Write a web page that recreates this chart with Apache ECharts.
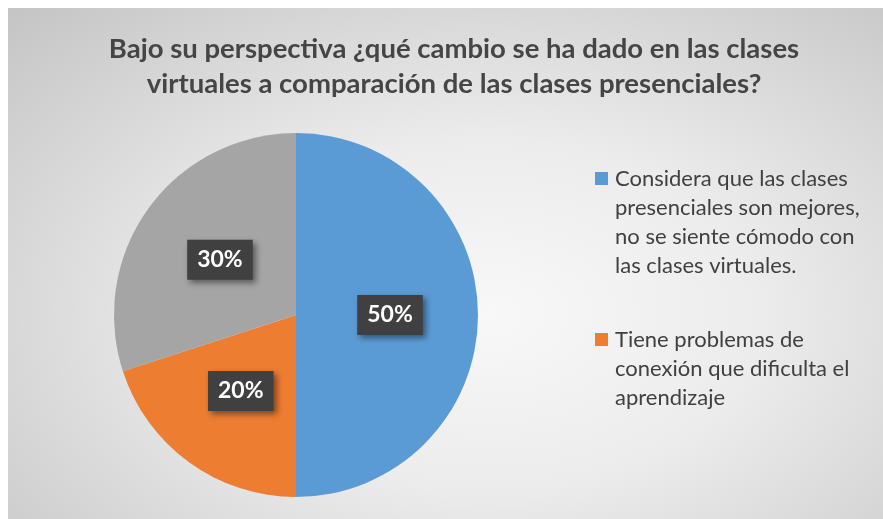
<!DOCTYPE html>
<html>
<head>
<meta charset="utf-8">
<script src="https://cdn.jsdelivr.net/npm/echarts@6/dist/echarts.min.js"></script>
<style>
  html, body { margin: 0; padding: 0; background: #ffffff; }
  #chart {
    position: absolute; left: 8px; top: 8px; width: 875px; height: 511px;
    background: radial-gradient(ellipse farthest-corner at 55% 60%, #f8f8f8 0%, #ececec 40%, #c4c4c4 100%);
  }
</style>
</head>
<body>
<div id="chart"></div>
<script>
const titleLines = [
  "Bajo su perspectiva ¿qué cambio se ha dado en las clases",
  "virtuales a comparación de las clases presenciales?"
];
const legendLines = [
  ["Considera que las clases", "presenciales son mejores,", "no se siente cómodo con", "las clases virtuales."],
  ["Tiene problemas de", "conexión que dificulta el", "aprendizaje"],
  ["Otro"]
];
const categories = legendLines.map(l => l.join(" "));
const values = [50, 20, 30];
const colors = ["#5B9BD5", "#ED7D31", "#A5A5A5"];
const legendShown = [categories[0], categories[1]];

const chart = echarts.init(document.getElementById('chart'));
const FONT = 'Lato';

const rich = {
  ind: { width: 13, height: 13, lineHeight: 29 },
  t: { fontFamily: FONT, fontSize: 22, color: '#404040', lineHeight: 29, padding: [0, 0, 0, 7] }
};
colors.forEach((c, i) => { rich['sq' + i] = { width: 13, height: 13, backgroundColor: c, lineHeight: 29 }; });

chart.setOption({
  backgroundColor: 'transparent',
  color: colors,
  title: {
    text: titleLines.join("\n"),
    left: 446,
    top: 24,
    padding: 0,
    textAlign: 'center',
    textStyle: { fontFamily: FONT, fontSize: 27.5, fontWeight: 'bold', color: '#454545', lineHeight: 35 }
  },
  legend: {
    orient: 'vertical',
    left: 582,
    top: 156,
    padding: 0,
    itemGap: 45,
    itemWidth: 0,
    itemHeight: 13,
    icon: 'none',
    data: legendShown,
    selectedMode: false,
    formatter: function (name) {
      const i = categories.indexOf(name);
      return legendLines[i].map((l, j) => (j === 0 ? '{sq' + i + '|}' : '{ind|}') + '{t|' + l + '}').join('\n');
    },
    textStyle: { fontFamily: FONT, fontSize: 22, color: '#404040', lineHeight: 29, rich: rich }
  },
  series: [{
    type: 'pie',
    center: [288, 307],
    radius: 182,
    startAngle: 90,
    clockwise: true,
    silent: true,
    itemStyle: { borderWidth: 0 },
    label: {
      show: true,
      position: 'inside',
      formatter: '{c}%',
      fontFamily: FONT,
      fontSize: 23,
      fontWeight: 'bold',
      color: '#ffffff',
      backgroundColor: '#404040',
      padding: [9, 10, 8, 10],
      shadowColor: 'rgba(0,0,0,0.45)',
      shadowBlur: 6,
      shadowOffsetX: 3,
      shadowOffsetY: 3
    },
    labelLine: { show: false },
    data: categories.map((n, i) => ({ name: n, value: values[i] }))
  }]
});
</script>
</body>
</html>
